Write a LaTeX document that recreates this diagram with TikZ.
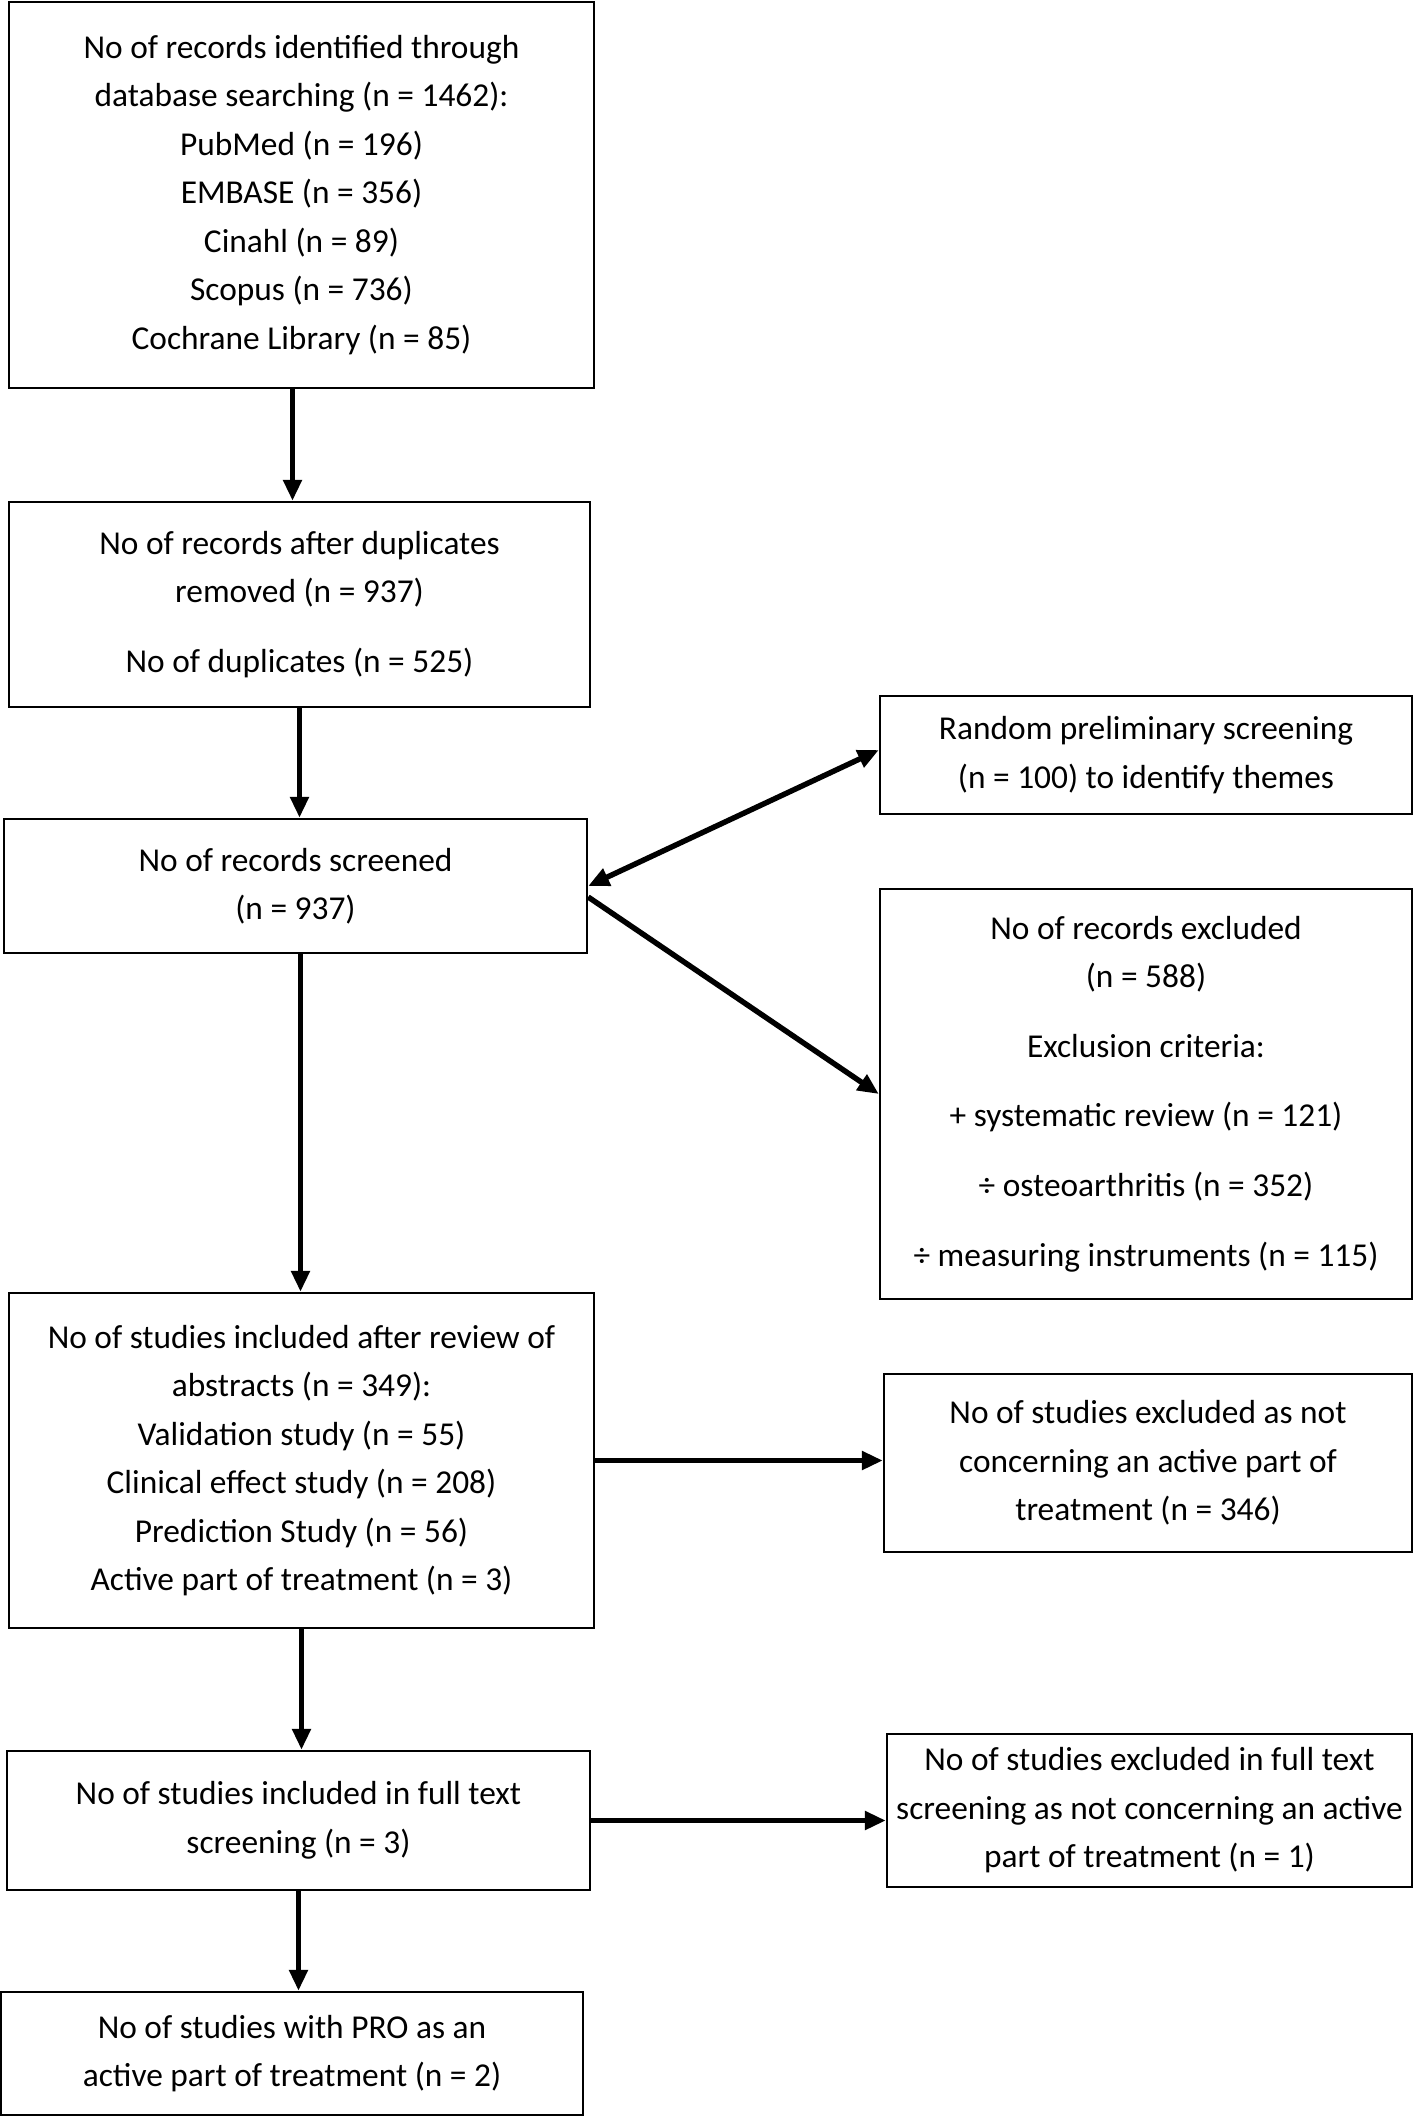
\documentclass[tikz,border=0pt]{standalone}
\usepackage{fontspec}
\setmainfont{Carlito}
\usetikzlibrary{arrows.meta}

\begin{document}
\begin{tikzpicture}[x=0.02cm, y=-0.02cm,
  box/.style={draw, line width=1.4pt, align=center, inner sep=0pt,
    font=\fontsize{19}{27.6}\selectfont},
  arr/.style={line width=3.1pt, -{Triangle[length=0.42cm, width=0.36cm]}},
  darr/.style={line width=3.1pt, {Triangle[length=0.42cm, width=0.36cm]}-{Triangle[length=0.42cm, width=0.36cm]}}]
\useasboundingbox (0, 0) rectangle (1420, 2116);

% Left column
\node [box, minimum width=11.7cm, minimum height=7.72cm] (ident) at (301.5, 195)
  {No of records identified through\\ database searching (n = 1462):\\ PubMed (n = 196)\\
   EMBASE (n = 356)\\ Cinahl (n = 89)\\ Scopus (n = 736)\\ Cochrane Library (n = 85)};
\node [box, minimum width=11.62cm, minimum height=4.1cm] (dupl) at (299.5, 604.5)
  {No of records after duplicates\\ removed (n = 937)\\[12pt] No of duplicates (n = 525)};
\node [box, minimum width=11.66cm, minimum height=2.68cm] (screen) at (295.5, 886)
  {No of records screened\\ (n = 937)};
\node [box, minimum width=11.7cm, minimum height=6.7cm] (abstr) at (301.5, 1460.5)
  {No of studies included after review of\\ abstracts (n = 349):\\ Validation study (n = 55)\\
   Clinical effect study (n = 208)\\ Prediction Study (n = 56)\\ Active part of treatment (n = 3)};
\node [box, minimum width=11.66cm, minimum height=2.78cm] (fulltext) at (298.5, 1820.5)
  {No of studies included in full text\\ screening (n = 3)};
\node [box, minimum width=11.64cm, minimum height=2.46cm] (pro) at (292, 2053.5)
  {No of studies with PRO as an\\ active part of treatment (n = 2)};

% Right column
\node [box, minimum width=10.64cm, minimum height=2.36cm] (random) at (1146, 755)
  {Random preliminary screening\\ (n = 100) to identify themes};
\node [box, minimum width=10.64cm, minimum height=8.2cm] (excl) at (1146, 1094)
  {No of records excluded\\ (n = 588)\\[12pt] Exclusion criteria:\\[12pt]
   + systematic review (n = 121)\\[12pt] ÷ osteoarthritis (n = 352)\\[12pt]
   ÷ measuring instruments (n = 115)};
\node [box, minimum width=10.56cm, minimum height=3.56cm] (notactive) at (1148, 1463)
  {No of studies excluded as not\\ concerning an active part of\\ treatment (n = 346)};
\node [box, minimum width=10.5cm, minimum height=3.06cm] (ftexcl) at (1149.5, 1810.5)
  {No of studies excluded in full text\\ screening as not concerning an active\\ part of treatment (n = 1)};

% Arrows
\draw [arr] ([xshift=-0.18cm]ident.south) -- ([xshift=-0.18cm]ident.south |- dupl.north);
\draw [arr] (dupl.south) -- (dupl.south |- screen.north);
\draw [arr] ([xshift=0.1cm]screen.south) -- ([xshift=0.1cm]screen.south |- abstr.north);
\draw [arr] (abstr.south) -- (abstr.south |- fulltext.north);
\draw [arr] (fulltext.south) -- (fulltext.south |- pro.north);

\draw [darr] (screen.east) -- ([yshift=0.1cm]random.west);
\draw [arr] ([yshift=-0.22cm]screen.east) -- (excl.west);
\draw [arr] (abstr.east) -- (abstr.east -| notactive.west);
\draw [arr] (fulltext.east) -- (fulltext.east -| ftexcl.west);
\end{tikzpicture}
\end{document}
